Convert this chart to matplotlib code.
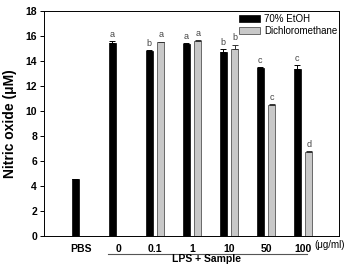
import numpy as np
import matplotlib.pyplot as plt

plt.rcParams['font.family'] = ['Liberation Sans', 'DejaVu Sans']

# datos
groups = ['PBS', '0', '0.1', '1', '10', '50', '100']
etoh = [4.55, 15.45, 14.82, 15.36, 14.75, 13.45, 13.38]
etoh_err = [0.03, 0.15, 0.05, 0.08, 0.2, 0.08, 0.3]
dcm = [np.nan, np.nan, 15.5, 15.62, 15.0, 10.48, 6.72]
dcm_err = [0, 0, 0.05, 0.05, 0.3, 0.05, 0.08]
etoh_letters = ['', 'a', 'b', 'a', 'b', 'c', 'c']
dcm_letters = ['', '', 'a', 'a', 'b', 'c', 'd']

x = np.arange(len(groups))
w = 0.19
off = 0.155

fig = plt.figure(figsize=(3.44, 2.65), dpi=100)
ax = fig.add_axes([0.128, 0.109, 0.857, 0.849])

zeros = np.zeros(len(x))
ax.bar(x - off, etoh, w, color='black', edgecolor='black', linewidth=0.5,
       label='70% EtOH')
ax.errorbar(x - off, etoh, yerr=[zeros, etoh_err], fmt='none', ecolor='black',
            elinewidth=0.7, capsize=2, capthick=0.7)
ax.bar(x + off, dcm, w, color='#c8c8c8', edgecolor='#555555', linewidth=0.6,
       label='Dichloromethane')
ax.errorbar(x + off, dcm, yerr=[zeros, dcm_err], fmt='none', ecolor='#333333',
            elinewidth=0.7, capsize=2, capthick=0.7)

for i in range(len(x)):
    if etoh_letters[i]:
        ax.text(x[i] - off, etoh[i] + etoh_err[i] + 0.2, etoh_letters[i],
                ha='center', va='bottom', fontsize=6.5, color='#444444')
    if dcm_letters[i]:
        ax.text(x[i] + off, dcm[i] + dcm_err[i] + 0.2, dcm_letters[i],
                ha='center', va='bottom', fontsize=6.5, color='#444444')

ax.set_xlim(-1, 6.97)
ax.set_ylim(0, 18)
ax.set_yticks(np.arange(0, 19, 2))
ax.set_xticks(x)
ax.set_xticklabels(groups, fontweight='bold', fontsize=7.5)
for t in ax.get_yticklabels():
    t.set_fontweight('bold')
    t.set_fontsize(7.5)
ax.tick_params(axis='x', length=0, pad=6)
ax.tick_params(axis='y', length=3, width=0.7, direction='out', pad=2)
for s in ax.spines.values():
    s.set_linewidth(0.7)

ax.set_ylabel('Nitric oxide (μM)', fontweight='bold', fontsize=10, labelpad=6)

ax.legend(loc='upper right', frameon=False, fontsize=7, handlelength=2.1,
          handleheight=0.7, handletextpad=0.4, labelspacing=0.2,
          borderaxespad=0.15, bbox_to_anchor=(1.012, 1.012))

# unidades y línea LPS + Sample
fig.text(0.913, 0.075, '(μg/ml)', fontsize=7, va='center', ha='left')
fig.add_artist(plt.Line2D([0.315, 0.893], [0.04, 0.04], color='#555555',
                          linewidth=0.8))
fig.text(0.6, 0.004, 'LPS + Sample', fontsize=7.5, fontweight='bold',
         ha='center', va='bottom')

fig.savefig('out.png', dpi=100)
